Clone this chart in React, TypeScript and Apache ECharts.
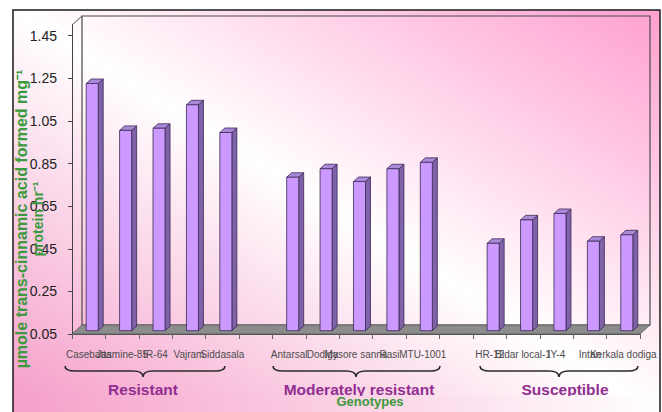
import React, { useEffect, useRef } from "react";
import * as echarts from "echarts";

// Category slots (blank entries separate the three resistance groups)
const genotypes = [
  "Casebatta", "Jasmine-85", "IR-64", "Vajram", "Siddasala", "",
  "Antarsal", "Dodiga", "Mysore sanna", "Rasi", "MTU-1001", "",
  "HR-12", "Bidar local-1", "IY-4", "Intan", "Kerkala dodiga",
];

// PAL activity, µmole trans-cinnamic acid formed mg-1 protein hr-1
const activity: (number | null)[] = [
  1.21, 0.99, 1.0, 1.11, 0.98, null,
  0.77, 0.81, 0.75, 0.81, 0.84, null,
  0.46, 0.57, 0.6, 0.47, 0.5,
];

const yTicks = [0.05, 0.25, 0.45, 0.65, 0.85, 1.05, 1.25, 1.45];
const Y_MIN = 0.05;
const Y_MAX = 1.5;

const groupNames = ["Resistant", "Moderately resistant", "Susceptible"];

// ---- layout ----
const FONT = "Liberation Sans, Arial, sans-serif";
const FRAME = { x: 13, y: 10, x2: 660, y2: 412 };
const PLOT = { left: 72, right: 640, top: 25, bottom: 334 };
const DEPTH = { dx: 10, dy: -9 };
const BAR = { shiftX: 3.5, shiftY: -3.3, widthRatio: 0.36, dx: 5, dy: -4.5 };
const GROUP_LABEL_X = [143, 359, 565];
const GROUP_LABEL_Y = 389;
const BRACES = [
  { a: 65, b: 225, m: 143 },
  { a: 273, b: 440, m: 356 },
  { a: 480, b: 638, m: 559 },
];
const BRACE_Y = { end: 366, mid: 371, tip: 377, r: 10 };

const FRONT = "#cc99ff";
const SIDE = "#7f62a8";
const TOP = "#aa8ad8";
const EDGE = "#3a2a55";
const PINK_A = "#f59cc7";
const PINK_B = "#ffa0cf";

function bracePath(a: number, b: number, m: number) {
  const { end, mid, tip, r } = BRACE_Y;
  return [
    `M${a} ${end}`,
    `Q${a} ${mid} ${a + r} ${mid}`,
    `L${m - r} ${mid}`,
    `Q${m} ${mid} ${m} ${tip}`,
    `Q${m} ${mid} ${m + r} ${mid}`,
    `L${b - r} ${mid}`,
    `Q${b} ${mid} ${b} ${end}`,
  ].join(" ");
}

function renderBar(_params: any, api: any) {
  const v = api.value(1);
  const cat = api.value(0);
  const top = api.coord([cat, v]);
  const base = api.coord([cat, Y_MIN]);
  const band = api.size([1, 0])[0];
  const w = band * BAR.widthRatio;
  const x0 = top[0] - w / 2 + BAR.shiftX;
  const x1 = x0 + w;
  const yt = top[1] + BAR.shiftY;
  const yb = base[1] + BAR.shiftY;
  const { dx, dy } = BAR;
  const st = { stroke: EDGE, lineWidth: 0.8 };
  return {
    type: "group",
    children: [
      {
        type: "polygon",
        shape: { points: [[x1, yt], [x1 + dx, yt + dy], [x1 + dx, yb + dy], [x1, yb]] },
        style: { fill: SIDE, ...st },
      },
      {
        type: "polygon",
        shape: { points: [[x0, yt], [x0 + dx, yt + dy], [x1 + dx, yt + dy], [x1, yt]] },
        style: { fill: TOP, ...st },
      },
      {
        type: "rect",
        shape: { x: x0, y: yt, width: w, height: yb - yt },
        style: { fill: FRONT, ...st },
      },
    ],
  };
}

export default function App() {
  const ref = useRef<HTMLDivElement>(null);

  useEffect(() => {
    const el = ref.current;
    if (!el) return;
    const chart = echarts.init(el, null, { renderer: "svg" });

    BRACES.forEach((br, i) => {
      echarts.graphic.registerShape(
        "brace" + i,
        echarts.graphic.extendPath(bracePath(br.a, br.b, br.m), {})
      );
    });

    const barData = activity.flatMap((v, i) => (v == null ? [] : [[i, v]]));

    const bx = PLOT.left + DEPTH.dx;
    const by = PLOT.top + DEPTH.dy;
    const bx2 = PLOT.right + DEPTH.dx;
    const by2 = PLOT.bottom + DEPTH.dy;
    const fw = FRAME.x2 - FRAME.x;
    const fh = FRAME.y2 - FRAME.y;

    const graphic: any[] = [
      // chart area background: unit square scaled to the frame so the
      // diagonal gradient runs corner to corner
      {
        type: "rect",
        z: -10,
        silent: true,
        x: FRAME.x,
        y: FRAME.y,
        scaleX: fw / 100,
        scaleY: fh / 100,
        shape: { x: 0, y: 0, width: 100, height: 100 },
        style: {
          fill: new echarts.graphic.LinearGradient(0, 1, 1, 0, [
            { offset: 0, color: PINK_A },
            { offset: 0.5, color: "#ffffff" },
            { offset: 1, color: PINK_B },
          ]),
        },
      },
      {
        type: "polyline",
        z: 20,
        silent: true,
        shape: { points: [[FRAME.x, FRAME.y2 + 2], [FRAME.x, FRAME.y], [FRAME.x2, FRAME.y], [FRAME.x2, FRAME.y2 + 2]] },
        style: { fill: null, stroke: "#1a1a1a", lineWidth: 1.5 },
      },
      // back wall
      {
        type: "rect",
        z: 0,
        silent: true,
        shape: { x: bx, y: by, width: bx2 - bx, height: by2 - by },
        style: { fill: null, stroke: "#4a4a4a", lineWidth: 1.2 },
      },
      // side wall top edge
      {
        type: "line",
        z: 0,
        silent: true,
        shape: { x1: PLOT.left, y1: PLOT.top, x2: bx, y2: by },
        style: { stroke: "#4a4a4a", lineWidth: 1 },
      },
      // floor
      {
        type: "polygon",
        z: 0,
        silent: true,
        shape: { points: [[PLOT.left, PLOT.bottom], [bx, by2], [bx2, by2], [PLOT.right, PLOT.bottom]] },
        style: { fill: "#8c8c8c", stroke: "#555555", lineWidth: 0.8 },
      },
      // y axis title
      {
        type: "text",
        z: 15,
        x: 21,
        y: 219,
        rotation: Math.PI / 2,
        style: {
          text: "µmole trans-cinnamic acid formed mg⁻¹",
          fill: "#3b9a3b",
          font: `bold 16px ${FONT}`,
          align: "center",
          verticalAlign: "middle",
          textAlign: "center",
          textVerticalAlign: "middle",
        },
      },
      {
        type: "text",
        z: 15,
        x: 38,
        y: 219,
        rotation: Math.PI / 2,
        style: {
          text: "protein hr⁻¹",
          fill: "#3b9a3b",
          font: `bold 14px ${FONT}`,
          align: "center",
          verticalAlign: "middle",
          textAlign: "center",
          textVerticalAlign: "middle",
        },
      },
    ];

    groupNames.forEach((name, i) => {
      graphic.push({
        type: "text",
        z: 10,
        x: GROUP_LABEL_X[i],
        y: GROUP_LABEL_Y,
        style: {
          text: name,
          fill: "#922e92",
          font: `bold 15.5px ${FONT}`,
          align: "center",
          verticalAlign: "middle",
          textAlign: "center",
          textVerticalAlign: "middle",
        },
      });
      graphic.push({
        type: "brace" + i,
        z: 10,
        silent: true,
        x: 0,
        y: 0,
        style: { fill: "none", stroke: "#2b2b2b", lineWidth: 1.6 },
      });
    });

    // bottom strip that trims the group captions
    graphic.push({
      type: "rect",
      z: 11,
      silent: true,
      shape: { x: FRAME.x + 1, y: 396, width: fw - 2, height: FRAME.y2 - 396 + 2 },
      style: {
        fill: new echarts.graphic.LinearGradient(
          FRAME.x, 0, FRAME.x2, 0,
          [
            { offset: 0, color: "#f6a0c9" },
            { offset: 1, color: "#ffffff" },
          ],
          true
        ),
      },
    });

    graphic.push({
      type: "text",
      z: 12,
      x: 370,
      y: 401,
      style: {
        text: "Genotypes",
        fill: "#3b9a3b",
        font: `bold 13px ${FONT}`,
        align: "center",
        verticalAlign: "middle",
        textAlign: "center",
        textVerticalAlign: "middle",
      },
    });

    chart.setOption({
      animation: false,
      grid: {
        left: PLOT.left,
        right: 662 - PLOT.right,
        top: PLOT.top,
        bottom: 412 - PLOT.bottom,
        containLabel: false,
      },
      xAxis: {
        type: "category",
        data: genotypes,
        boundaryGap: true,
        axisLine: { show: true, lineStyle: { color: "#555555", width: 1 } },
        axisTick: { show: true, length: 5, interval: 0, lineStyle: { color: "#666666" } },
        axisLabel: { interval: 0, margin: 15, fontSize: 10, color: "#4d4d4d", fontFamily: FONT },
        splitLine: { show: false },
      },
      yAxis: {
        type: "value",
        min: Y_MIN,
        max: Y_MAX,
        axisLine: { show: true, lineStyle: { color: "#444444", width: 1 } },
        axisTick: { show: true, length: 4, customValues: yTicks, lineStyle: { color: "#444444" } },
        axisLabel: {
          customValues: yTicks,
          formatter: (v: number) => v.toFixed(2),
          margin: 15,
          fontSize: 14,
          color: "#222222",
          fontFamily: FONT,
        },
        splitLine: { show: false },
      },
      series: [
        {
          type: "custom",
          z: 5,
          renderItem: renderBar,
          data: barData,
          encode: { x: 0, y: 1 },
        },
      ],
      graphic,
    });

    return () => chart.dispose();
  }, []);

  return (
    <div
      ref={ref}
      style={{ position: "absolute", left: 0, top: 0, width: 662, height: 412 }}
    />
  );
}
